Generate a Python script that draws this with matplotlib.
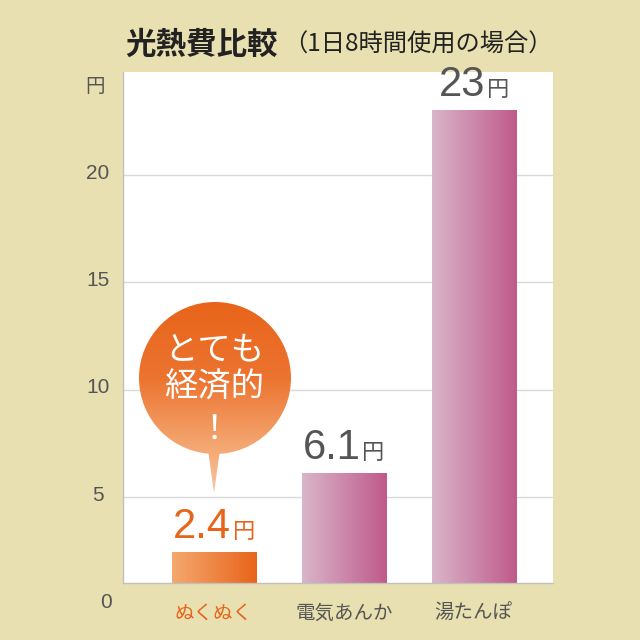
import numpy as np
import matplotlib
matplotlib.use("Agg")
import matplotlib.pyplot as plt
from matplotlib.colors import LinearSegmentedColormap
from matplotlib.patches import Circle, Polygon
from matplotlib.transforms import ScaledTranslation
from matplotlib.offsetbox import TextArea, HPacker, AnnotationBbox

plt.rcParams["font.family"] = ["Noto Sans CJK JP", "DejaVu Sans"]

# ---------------------------------------------------------------------------
# Data
# ---------------------------------------------------------------------------
categories = ["ぬくぬく", "電気あんか", "湯たんぽ"]
costs = [2.4, 6.1, 23]
cost_labels = ["2.4", "6.1", "23"]
y_ticks = [5, 10, 15, 20]

BG = "#e8e0b0"
ORANGE = "#e8641a"
GRAY = "#555555"
NUM_FONT = ["Liberation Sans", "DejaVu Sans"]

orange_cmap = LinearSegmentedColormap.from_list("og", ["#f5a86f", "#e8641a"])
pink_cmap = LinearSegmentedColormap.from_list("pk", ["#dab5ca", "#bf5a8b"])
bubble_cmap = LinearSegmentedColormap.from_list(
    "bb", [(0, "#f8c6a0"), (0.25, "#f4a670"), (0.6, "#ec7430"), (1, "#e8641a")])


def fill_gradient(ax, patch, cmap):
    # paint a left->right gradient over the bar, clipped at the axis bottom
    x, w, h = patch.get_x(), patch.get_width(), patch.get_height()
    y0 = max(patch.get_y(), ax.get_ylim()[0])
    grad = np.linspace(0, 1, 256).reshape(1, -1)
    ax.imshow(grad, cmap=cmap, extent=[x, x + w, y0, h],
              aspect="auto", origin="lower", zorder=2)
    patch.set_visible(False)


fig = plt.figure(figsize=(6.4, 6.4), dpi=100, facecolor=BG)
ax = fig.add_axes([123 / 640, 57 / 640, 430 / 640, 511 / 640])
ax.set_facecolor("white")

x = np.arange(len(categories))
bars = ax.bar(x, costs, width=0.65, zorder=2)
ax.set_xlim(-0.7, 2.61)
ax.set_ylim(1.0, 24.8)
for i, b in enumerate(bars):
    fill_gradient(ax, b, orange_cmap if i == 0 else pink_cmap)
ax.set_xlim(-0.7, 2.61)
ax.set_ylim(1.0, 24.8)

# grid / spines
ax.set_yticks(y_ticks)
ax.yaxis.grid(True, color="#d9d9d9", linewidth=1, zorder=0)
ax.set_axisbelow(True)
for s in ["top", "right"]:
    ax.spines[s].set_visible(False)
for s in ["left", "bottom"]:
    ax.spines[s].set_color("#c0c0c0")
    ax.spines[s].set_linewidth(1)

ax.tick_params(axis="y", length=0, pad=18, labelsize=15, labelcolor=GRAY)
for lab in ax.get_yticklabels():
    lab.set_horizontalalignment("center")
    lab.set_fontfamily(NUM_FONT)
    lab.set_transform(lab.get_transform()
                      + ScaledTranslation(0, 4 / 100, fig.dpi_scale_trans))

ax.set_xticks(x)
ax.set_xticklabels(categories)
ax.tick_params(axis="x", length=0, pad=14, labelsize=14)
for i, lab in enumerate(ax.get_xticklabels()):
    lab.set_color(ORANGE if i == 0 else GRAY)

# extra axis texts
fig.text(95 / 640, 1 - 86 / 640, "円", ha="center", va="center",
         fontsize=14, color=GRAY)
fig.text(106 / 640, 1 - 603 / 640, "0", ha="center", va="center",
         fontsize=15, color=GRAY, family=NUM_FONT)

# value labels
for i, (xi, v, txt) in enumerate(zip(x, costs, cost_labels)):
    col = ORANGE if i == 0 else GRAY
    num = TextArea(txt, textprops=dict(fontsize=30, color=col, family=NUM_FONT))
    yen = TextArea("円", textprops=dict(fontsize=16, color=col))
    box = HPacker(children=[num, yen], align="baseline", pad=0, sep=1)
    ab = AnnotationBbox(box, (xi, v), xybox=(0, 4), xycoords="data",
                        boxcoords="offset points", box_alignment=(0.5, 0),
                        frameon=False, zorder=3)
    ax.add_artist(ab)

# title
fig.text(125 / 640, 1 - 45 / 640, "光熱費比較", ha="left", va="center",
         fontsize=22, color="#222222", fontweight="bold")
fig.text(283 / 640, 1 - 45 / 640, "（1日8時間使用の場合）", ha="left",
         va="center", fontsize=17.5, color="#222222")

# speech bubble
bax = fig.add_axes([130 / 640, 142 / 640, 170 / 640, 200 / 640])
bax.set_xlim(0, 170)
bax.set_ylim(0, 200)
bax.axis("off")
vgrad = np.linspace(0, 1, 256).reshape(-1, 1)
circ = Circle((85, 120), 76, transform=bax.transData)
tail = Polygon([(75, 70), (93, 70), (84, 5)], closed=True,
               transform=bax.transData)
for clip in [circ, tail]:
    im = bax.imshow(vgrad, cmap=bubble_cmap, extent=[0, 170, 5, 196],
                    aspect="auto", origin="lower")
    im.set_clip_path(clip)
bax.text(84, 148, "とても", ha="center", va="center", fontsize=24, color="white")
bax.text(84, 111, "経済的", ha="center", va="center", fontsize=24, color="white")
bax.text(84, 68, "！", ha="center", va="center", fontsize=24, color="white")

fig.savefig("out.png", dpi=100, facecolor=BG)
